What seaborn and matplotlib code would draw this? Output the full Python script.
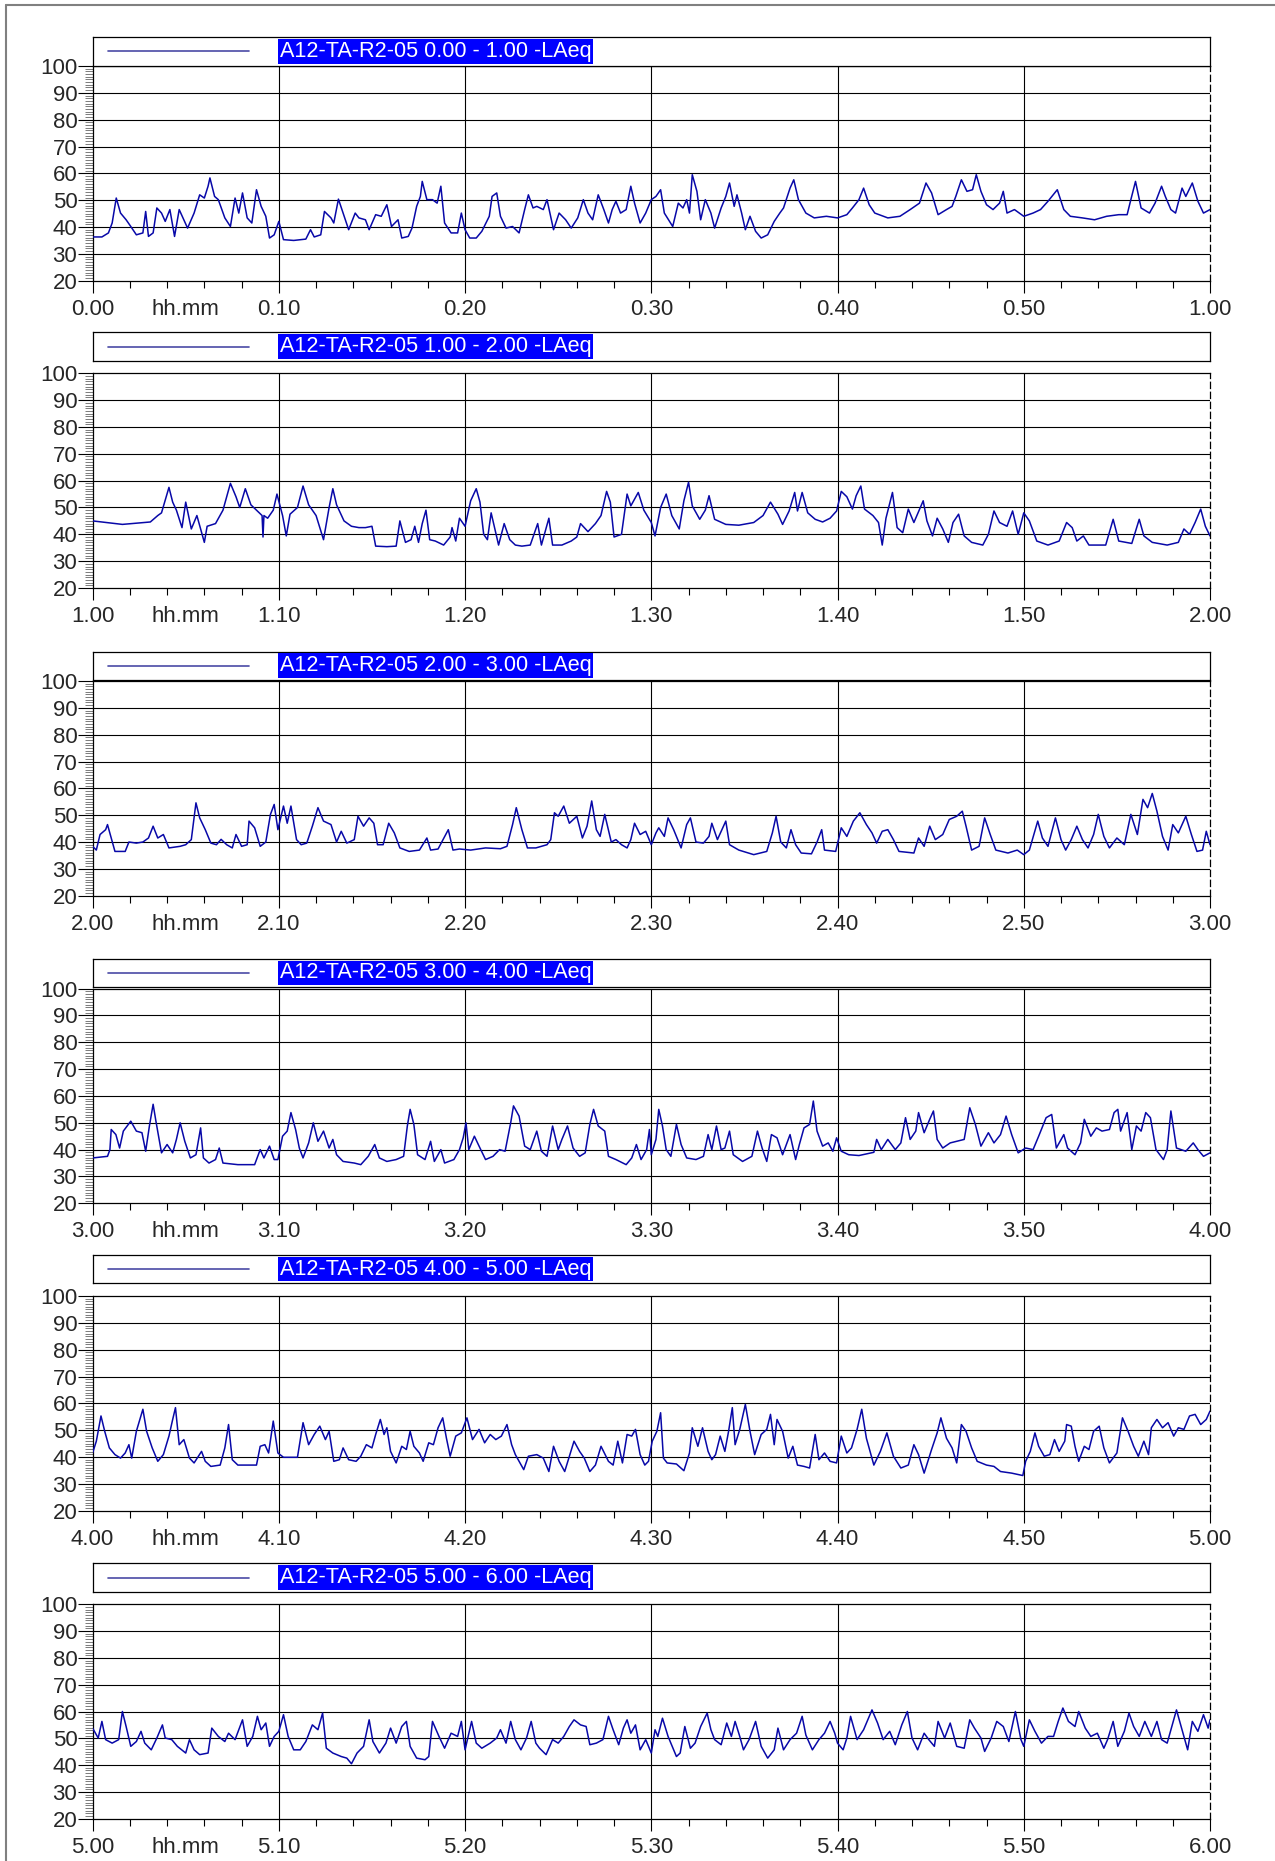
import numpy as np
import pandas as pd
import matplotlib
matplotlib.use("Agg")
import matplotlib.pyplot as plt
from matplotlib.lines import Line2D
import seaborn as sns

# Dados: (minuto dentro da hora, nível dB)
station = "A12-TA-R2-05"
metric = "LAeq"
hours = [0, 1, 2, 3, 4, 5]
y_ticks = [20, 30, 40, 50, 60, 70, 80, 90, 100]
x_ticks = [0, 10, 20, 30, 40, 50, 60]

trace_0 = [
    (0, 36.3), (0.5, 36.3), (0.85, 37.8), (1.05, 41.5), (1.27, 50.8), (1.5, 45.2), (1.8, 42.7), (2.05, 40.2),
    (2.35, 37.1), (2.7, 37.8), (2.85, 45.8), (3.0, 36.5), (3.25, 37.8), (3.45, 47.1), (3.7, 45.2), (3.9, 42.1),
    (4.15, 46.5), (4.4, 36.5), (4.65, 46.5), (4.9, 42.7), (5.1, 39.6), (5.45, 45.2), (5.75, 52.0), (6.0, 50.8),
    (6.2, 55.2), (6.3, 58.3), (6.55, 51.4), (6.75, 50.2), (7.1, 43.4), (7.4, 40.2), (7.65, 50.8), (7.85, 45.2),
    (8.05, 52.7), (8.3, 43.4), (8.55, 41.5), (8.8, 53.9), (9.05, 47.7), (9.3, 44.0), (9.5, 35.9), (9.75, 37.1),
    (10.0, 42.1), (10.25, 35.3), (10.8, 35.0), (11.45, 35.5), (11.7, 39.0), (11.9, 36.3), (12.25, 37.1),
    (12.45, 45.8), (12.8, 43.4), (12.95, 41.5), (13.2, 50.4), (13.45, 45.2), (13.75, 39.0), (14.1, 45.2),
    (14.3, 43.4), (14.65, 42.7), (14.85, 39.0), (15.2, 44.6), (15.5, 44.0), (15.8, 48.3), (16.05, 40.2),
    (16.4, 42.7), (16.6, 35.9), (16.95, 36.5), (17.15, 39.6), (17.4, 47.7), (17.6, 51.4), (17.7, 57.0),
    (17.95, 50.2), (18.25, 50.2), (18.5, 48.9), (18.7, 55.2), (18.9, 41.5), (19.25, 37.8), (19.6, 37.8),
    (19.8, 45.2), (20.0, 39.0), (20.25, 35.9), (20.6, 35.9), (20.9, 38.4), (21.3, 44.0), (21.45, 51.4),
    (21.7, 52.7), (21.9, 44.0), (22.2, 39.6), (22.55, 40.2), (22.9, 37.8), (23.2, 46.5), (23.4, 52.0),
    (23.65, 47.1), (23.85, 47.7), (24.2, 46.5), (24.4, 50.2), (24.75, 39.0), (25.05, 45.2), (25.4, 42.7),
    (25.7, 39.6), (26.05, 43.4), (26.35, 50.2), (26.6, 45.2), (26.85, 42.7), (27.15, 52.0), (27.45, 46.5),
    (27.7, 41.5), (27.9, 46.5), (28.1, 49.6), (28.35, 45.2), (28.65, 46.5), (28.9, 55.2), (29.1, 48.9),
    (29.4, 41.5), (29.7, 45.2), (30.0, 50.2), (30.25, 51.4), (30.5, 53.9), (30.7, 45.2), (31.15, 40.2),
    (31.45, 48.9), (31.7, 47.1), (31.9, 50.2), (32.05, 45.2), (32.2, 59.5), (32.45, 53.3), (32.65, 42.7),
    (32.9, 50.2), (33.2, 45.2), (33.4, 39.6), (33.75, 47.1), (34.0, 51.4), (34.2, 56.4), (34.45, 47.7),
    (34.6, 52.0), (34.85, 45.2), (35.05, 39.0), (35.3, 44.0), (35.6, 38.4), (35.9, 35.9), (36.25, 37.1),
    (36.6, 42.1), (36.9, 45.2), (37.1, 47.1), (37.45, 54.5), (37.65, 57.6), (37.9, 50.2), (38.3, 45.2),
    (38.75, 43.4), (39.4, 44.0), (40.0, 43.4), (40.5, 44.6), (40.8, 47.1), (41.15, 50.2), (41.4, 54.5),
    (41.7, 48.3), (42.0, 45.2), (42.7, 43.4), (43.35, 44.0), (43.9, 46.5), (44.4, 48.9), (44.75, 56.4),
    (45.05, 52.7), (45.4, 44.6), (45.85, 46.5), (46.15, 47.7), (46.35, 51.4), (46.65, 57.6), (46.95, 53.3),
    (47.25, 53.9), (47.45, 59.5), (47.7, 53.3), (48.0, 48.3), (48.35, 46.5), (48.7, 48.9), (48.9, 53.3),
    (49.1, 45.2), (49.5, 46.5), (50.0, 44.0), (50.5, 45.2), (50.9, 46.5), (51.3, 49.6), (51.8, 53.9),
    (52.15, 46.5), (52.5, 44.0), (53.15, 43.4), (53.8, 42.7), (54.45, 44.0), (55.1, 44.6), (55.55, 44.6),
    (55.75, 50.2), (56.0, 57.0), (56.3, 47.1), (56.75, 45.2), (57.05, 48.9), (57.4, 55.2), (57.6, 51.4),
    (57.9, 46.5), (58.15, 45.2), (58.5, 54.5), (58.7, 51.4), (59.05, 56.4), (59.35, 49.6), (59.65, 45.2),
    (60.0, 46.5),
]

trace_1 = [
    (0, 45.0), (1.6, 43.7), (3.1, 44.6), (3.5, 47.0), (3.7, 48.0), (4.1, 57.5), (4.3, 52.0), (4.5, 49.0),
    (4.8, 42.5), (5.0, 52.0), (5.3, 42.0), (5.6, 47.0), (5.8, 42.0), (6.0, 37.0), (6.15, 43.0), (6.6, 44.0),
    (7.0, 49.0), (7.4, 59.0), (7.7, 54.0), (7.9, 50.0), (8.2, 57.0), (8.5, 51.0), (8.8, 49.0), (9.1, 47.0),
    (9.15, 39.0), (9.2, 47.0), (9.4, 46.0), (9.7, 49.0), (9.9, 55.0), (10.2, 47.0), (10.4, 39.4), (10.6, 47.5),
    (11.0, 50.0), (11.3, 58.0), (11.6, 51.0), (12.0, 47.0), (12.4, 38.0), (12.7, 50.0), (12.9, 57.0),
    (13.1, 51.0), (13.5, 45.0), (13.9, 43.0), (14.3, 42.5), (14.65, 42.5), (15.0, 43.0), (15.2, 35.6),
    (15.8, 35.4), (16.3, 35.6), (16.5, 45.0), (16.8, 37.0), (17.1, 38.0), (17.3, 43.0), (17.5, 37.0),
    (17.7, 44.0), (17.9, 49.0), (18.1, 38.0), (18.4, 37.5), (18.85, 36.0), (19.2, 39.0), (19.3, 42.5),
    (19.5, 37.5), (19.7, 46.0), (20.0, 43.0), (20.3, 52.5), (20.6, 57.0), (20.8, 52.0), (21.0, 40.0),
    (21.2, 38.0), (21.4, 48.0), (21.6, 42.0), (21.8, 36.0), (22.1, 44.0), (22.4, 38.0), (22.7, 36.0),
    (23.05, 35.6), (23.5, 36.0), (23.9, 44.0), (24.1, 36.0), (24.5, 46.0), (24.7, 36.0), (25.2, 36.0),
    (25.7, 37.5), (26.0, 39.0), (26.2, 44.0), (26.6, 41.0), (27.0, 44.0), (27.3, 47.0), (27.6, 56.0),
    (27.8, 52.0), (28.0, 39.0), (28.4, 40.0), (28.7, 55.0), (28.9, 50.6), (29.3, 55.6), (29.6, 49.0),
    (30.0, 44.4), (30.2, 39.4), (30.5, 50.0), (30.8, 55.0), (31.1, 47.0), (31.5, 42.0), (31.75, 52.5),
    (32.0, 59.4), (32.2, 50.6), (32.6, 45.6), (32.9, 49.0), (33.1, 54.4), (33.4, 45.6), (34.0, 43.7),
    (34.7, 43.4), (35.5, 44.4), (36.0, 47.0), (36.4, 52.0), (36.8, 47.5), (37.05, 43.7), (37.4, 48.7),
    (37.7, 55.6), (37.85, 48.7), (38.1, 55.6), (38.4, 48.0), (38.8, 45.6), (39.2, 44.6), (39.6, 46.0),
    (39.95, 48.7), (40.2, 56.0), (40.5, 54.0), (40.8, 49.4), (41.0, 54.4), (41.25, 58.0), (41.45, 49.4),
    (41.9, 47.0), (42.2, 44.4), (42.4, 36.0), (42.6, 46.0), (42.95, 55.6), (43.2, 42.5), (43.5, 40.6),
    (43.8, 49.4), (44.1, 44.4), (44.6, 52.5), (44.8, 45.0), (45.1, 39.4), (45.35, 46.0), (45.65, 42.0),
    (45.95, 37.0), (46.2, 44.4), (46.5, 47.5), (46.8, 39.4), (47.2, 37.0), (47.8, 36.0), (48.1, 40.0),
    (48.4, 48.7), (48.7, 44.4), (49.1, 43.0), (49.4, 48.7), (49.7, 40.0), (50.0, 48.0), (50.3, 45.0),
    (50.7, 37.5), (51.3, 36.0), (51.9, 37.5), (52.3, 44.4), (52.6, 42.5), (52.85, 37.5), (53.2, 39.4),
    (53.5, 36.0), (54.4, 36.0), (54.8, 45.6), (55.1, 37.5), (55.8, 36.6), (56.2, 45.6), (56.45, 39.4),
    (56.9, 37.0), (57.7, 36.0), (58.3, 37.0), (58.6, 42.0), (58.9, 40.0), (59.2, 44.4), (59.5, 49.4),
    (59.75, 43.0), (60.0, 39.4),
]

trace_2 = [
    (0, 38.4), (0.2, 37.0), (0.4, 42.8), (0.7, 44.6), (0.8, 46.5), (1.0, 41.5), (1.2, 36.5), (1.75, 36.5),
    (1.95, 40.0), (2.35, 39.6), (2.7, 40.0), (3.0, 41.5), (3.25, 45.9), (3.5, 41.5), (3.8, 42.8), (4.1, 37.8),
    (4.7, 38.4), (5.0, 39.0), (5.3, 40.9), (5.55, 54.6), (5.75, 49.0), (6.05, 44.6), (6.35, 39.6), (6.65, 39.0),
    (6.9, 41.0), (7.2, 39.0), (7.5, 37.8), (7.7, 42.8), (8.0, 38.4), (8.3, 39.0), (8.4, 47.8), (8.7, 45.3),
    (9.0, 38.4), (9.3, 40.0), (9.55, 50.3), (9.75, 54.0), (9.95, 44.6), (10.25, 53.4), (10.45, 47.0),
    (10.65, 53.4), (10.95, 40.9), (11.2, 39.0), (11.5, 39.6), (11.8, 45.9), (12.1, 52.8), (12.4, 47.8),
    (12.8, 46.5), (13.1, 40.0), (13.35, 44.0), (13.65, 39.6), (14.05, 40.9), (14.25, 49.6), (14.55, 45.9),
    (14.85, 49.0), (15.1, 47.0), (15.3, 39.0), (15.6, 39.0), (15.9, 47.0), (16.2, 43.4), (16.5, 37.8),
    (17.0, 36.5), (17.55, 37.0), (17.95, 41.5), (18.15, 37.0), (18.55, 37.4), (19.1, 44.6), (19.35, 37.0),
    (19.7, 37.4), (20.3, 37.0), (21.1, 37.8), (21.9, 37.5), (22.25, 38.4), (22.55, 46.5), (22.75, 52.8),
    (23.05, 44.6), (23.35, 37.8), (23.8, 37.8), (24.4, 39.0), (24.6, 40.9), (24.8, 50.9), (25.0, 49.6),
    (25.3, 53.4), (25.6, 47.0), (26.0, 49.6), (26.3, 41.5), (26.55, 45.9), (26.8, 55.3), (27.05, 44.6),
    (27.25, 42.1), (27.5, 50.3), (27.85, 40.0), (28.1, 40.9), (28.4, 39.0), (28.7, 37.8), (28.9, 40.9),
    (29.1, 47.0), (29.4, 42.8), (29.7, 44.0), (30.0, 39.0), (30.25, 43.4), (30.4, 45.3), (30.7, 42.1),
    (30.9, 49.0), (31.2, 44.6), (31.6, 37.8), (31.9, 46.5), (32.1, 49.0), (32.4, 40.0), (32.8, 39.6),
    (33.1, 42.1), (33.25, 47.0), (33.55, 40.9), (34.0, 47.8), (34.2, 39.0), (34.7, 37.0), (35.5, 35.3),
    (36.2, 36.5), (36.5, 43.4), (36.7, 49.6), (36.95, 40.0), (37.25, 37.8), (37.5, 44.6), (37.75, 39.0),
    (38.05, 35.9), (38.6, 35.6), (38.9, 40.0), (39.15, 44.6), (39.3, 37.0), (39.9, 36.5), (40.2, 45.3),
    (40.5, 42.1), (40.85, 47.8), (41.2, 50.9), (41.55, 46.5), (41.85, 43.4), (42.1, 39.6), (42.4, 44.0),
    (42.7, 44.6), (43.0, 40.9), (43.3, 36.5), (44.1, 35.9), (44.35, 41.5), (44.65, 38.4), (44.95, 45.9),
    (45.25, 40.9), (45.65, 42.8), (46.0, 48.4), (46.4, 49.6), (46.7, 51.5), (46.9, 45.9), (47.2, 37.0),
    (47.6, 38.4), (47.9, 49.0), (48.2, 42.8), (48.5, 37.0), (49.15, 35.9), (49.65, 37.0), (50.0, 35.3),
    (50.3, 37.0), (50.75, 47.8), (51.0, 41.5), (51.3, 38.4), (51.7, 49.0), (52.0, 40.9), (52.25, 37.0),
    (52.55, 40.9), (52.85, 45.9), (53.15, 40.9), (53.45, 37.8), (53.75, 42.8), (54.0, 50.3), (54.3, 42.1),
    (54.6, 37.8), (55.0, 41.5), (55.4, 39.0), (55.75, 50.3), (56.1, 42.8), (56.4, 55.9), (56.65, 52.8),
    (56.9, 58.1), (57.15, 51.5), (57.45, 42.1), (57.75, 37.0), (58.0, 46.5), (58.3, 43.4), (58.7, 49.6),
    (59.0, 42.8), (59.3, 36.5), (59.6, 37.0), (59.8, 44.0), (60.0, 39.0),
]

trace_3 = [
    (0, 36.9), (0.8, 37.5), (0.93, 40.0), (1.0, 47.5), (1.25, 45.6), (1.45, 40.6), (1.65, 46.9), (2.05, 50.6),
    (2.35, 46.9), (2.65, 46.3), (2.85, 39.4), (3.05, 48.8), (3.25, 56.9), (3.4, 50.6), (3.7, 38.8), (4.0, 41.9),
    (4.3, 38.8), (4.5, 43.8), (4.7, 50.0), (4.95, 43.1), (5.25, 36.9), (5.55, 38.1), (5.8, 48.1), (5.95, 36.9),
    (6.25, 35.0), (6.6, 36.3), (6.8, 40.6), (7.0, 35.0), (7.8, 34.4), (8.7, 34.4), (9.0, 40.0), (9.2, 36.9),
    (9.5, 41.3), (9.75, 36.3), (9.95, 36.3), (10.2, 45.0), (10.45, 46.9), (10.65, 53.8), (10.9, 47.5),
    (11.1, 40.6), (11.3, 36.9), (11.6, 42.5), (11.85, 50.0), (12.1, 43.1), (12.4, 46.9), (12.7, 40.6),
    (12.9, 43.8), (13.1, 38.1), (13.45, 35.6), (14.05, 35.0), (14.4, 34.4), (14.8, 37.5), (15.15, 41.9),
    (15.4, 36.9), (15.8, 35.6), (16.3, 36.3), (16.7, 37.5), (16.9, 48.8), (17.05, 55.0), (17.25, 49.4),
    (17.45, 38.1), (17.85, 36.3), (18.15, 43.1), (18.35, 35.6), (18.7, 40.0), (18.9, 35.0), (19.4, 36.3),
    (19.7, 40.0), (19.9, 44.4), (20.05, 50.0), (20.2, 40.0), (20.5, 45.0), (20.8, 40.6), (21.1, 36.3),
    (21.5, 37.5), (21.85, 40.0), (22.15, 39.4), (22.45, 50.0), (22.6, 56.3), (22.9, 52.5), (23.2, 41.3),
    (23.5, 40.0), (23.85, 46.9), (24.1, 39.4), (24.4, 37.5), (24.7, 48.8), (25.0, 40.0), (25.2, 43.8),
    (25.5, 48.8), (25.8, 40.6), (26.15, 37.5), (26.45, 38.8), (26.7, 49.4), (26.9, 55.0), (27.15, 48.8),
    (27.5, 46.9), (27.7, 37.5), (28.1, 36.3), (28.65, 34.4), (28.95, 36.9), (29.2, 41.9), (29.45, 36.3),
    (29.75, 40.0), (29.9, 47.5), (30.0, 38.1), (30.25, 43.8), (30.4, 55.0), (30.6, 48.8), (30.8, 40.0),
    (31.05, 37.5), (31.35, 49.4), (31.6, 41.9), (31.9, 36.9), (32.4, 36.3), (32.8, 37.5), (33.05, 45.6),
    (33.25, 40.0), (33.5, 48.8), (33.75, 40.0), (33.95, 40.6), (34.2, 46.9), (34.4, 38.1), (34.9, 35.6),
    (35.4, 37.5), (35.7, 46.9), (35.95, 40.6), (36.2, 35.6), (36.45, 45.6), (36.75, 44.4), (37.05, 38.1),
    (37.45, 45.6), (37.75, 36.3), (37.95, 41.9), (38.2, 48.1), (38.5, 49.4), (38.7, 58.1), (38.9, 46.9),
    (39.2, 41.3), (39.5, 42.5), (39.75, 39.4), (39.95, 44.4), (40.2, 39.4), (40.6, 38.1), (41.15, 37.8),
    (41.95, 39.0), (42.1, 43.8), (42.35, 40.0), (42.7, 43.8), (43.1, 40.0), (43.4, 42.5), (43.65, 51.9),
    (43.9, 43.8), (44.2, 46.9), (44.35, 53.8), (44.65, 46.3), (44.95, 51.3), (45.15, 54.4), (45.35, 43.8),
    (45.65, 40.6), (46.05, 42.5), (46.4, 43.1), (46.8, 43.8), (47.1, 55.6), (47.4, 49.4), (47.7, 41.3),
    (48.1, 46.3), (48.4, 42.5), (48.75, 45.6), (49.05, 52.5), (49.35, 45.6), (49.7, 38.8), (50.1, 40.6),
    (50.5, 40.0), (50.8, 45.0), (51.2, 51.9), (51.5, 53.1), (51.75, 40.6), (52.15, 45.6), (52.35, 40.6),
    (52.75, 38.1), (53.05, 42.5), (53.25, 51.3), (53.6, 45.0), (53.9, 48.1), (54.2, 46.9), (54.6, 47.5),
    (54.85, 53.8), (55.05, 55.0), (55.2, 46.9), (55.55, 53.8), (55.8, 40.0), (56.05, 48.8), (56.3, 46.9),
    (56.55, 53.8), (56.8, 51.9), (57.1, 40.0), (57.5, 36.3), (57.7, 40.0), (57.9, 54.4), (58.2, 40.6),
    (58.7, 39.4), (59.1, 42.5), (59.35, 40.0), (59.65, 37.5), (60.0, 38.8),
]

trace_4 = [
    (0, 41.5), (0.2, 45.9), (0.45, 55.3), (0.65, 49.6), (0.9, 43.4), (1.2, 40.9), (1.5, 39.6), (1.75, 41.5),
    (1.95, 44.6), (2.1, 39.6), (2.35, 49.6), (2.7, 57.8), (2.9, 49.6), (3.2, 43.4), (3.5, 38.4), (3.8, 40.9),
    (4.1, 47.8), (4.3, 54.0), (4.45, 58.4), (4.65, 44.6), (4.9, 46.5), (5.2, 39.6), (5.45, 37.8), (5.85, 42.1),
    (6.05, 38.4), (6.35, 36.5), (6.85, 37.0), (7.1, 43.4), (7.3, 52.1), (7.5, 39.0), (7.8, 37.0), (8.4, 37.0),
    (8.8, 37.0), (9.0, 44.0), (9.25, 44.6), (9.45, 41.5), (9.7, 53.4), (9.95, 41.5), (10.25, 39.9),
    (11.0, 39.9), (11.3, 52.8), (11.6, 44.6), (11.9, 48.4), (12.2, 51.5), (12.5, 46.5), (12.7, 49.6),
    (12.95, 38.4), (13.25, 39.0), (13.45, 43.4), (13.75, 39.0), (14.15, 38.4), (14.4, 40.3), (14.7, 44.6),
    (15.0, 43.4), (15.2, 48.4), (15.45, 54.0), (15.65, 48.4), (15.8, 50.9), (16.0, 42.1), (16.3, 37.8),
    (16.6, 44.0), (16.85, 42.8), (17.05, 49.6), (17.25, 44.0), (17.55, 41.5), (17.75, 38.4), (18.05, 45.3),
    (18.3, 44.6), (18.55, 50.9), (18.8, 54.6), (19.0, 47.0), (19.2, 40.3), (19.5, 47.8), (19.8, 49.0),
    (20.1, 54.6), (20.4, 46.5), (20.75, 50.3), (21.05, 45.3), (21.35, 48.4), (21.65, 46.5), (21.95, 47.8),
    (22.25, 52.1), (22.5, 44.6), (22.7, 40.9), (22.9, 38.4), (23.15, 35.3), (23.4, 40.3), (23.85, 40.9),
    (24.2, 39.6), (24.5, 34.6), (24.75, 44.0), (25.05, 38.4), (25.35, 34.6), (25.6, 40.3), (25.85, 45.9),
    (26.15, 42.1), (26.4, 39.6), (26.7, 34.6), (27.0, 37.0), (27.3, 44.0), (27.7, 38.4), (27.95, 37.0),
    (28.2, 45.9), (28.45, 37.8), (28.7, 48.4), (28.95, 47.8), (29.15, 50.3), (29.4, 40.9), (29.65, 37.0),
    (29.85, 38.4), (30.05, 45.9), (30.3, 49.6), (30.5, 56.5), (30.65, 39.6), (30.85, 37.8), (31.35, 37.4),
    (31.75, 34.9), (32.05, 41.5), (32.2, 50.9), (32.5, 44.0), (32.75, 50.9), (33.05, 42.1), (33.25, 39.0),
    (33.45, 40.9), (33.7, 47.8), (33.95, 42.1), (34.15, 49.6), (34.35, 58.4), (34.5, 44.6), (34.75, 50.3),
    (35.05, 59.6), (35.3, 49.6), (35.55, 40.9), (35.9, 48.4), (36.2, 50.3), (36.4, 55.9), (36.6, 44.6),
    (36.75, 54.0), (37.05, 49.6), (37.35, 39.6), (37.6, 44.0), (37.85, 37.0), (38.2, 36.5), (38.5, 35.9),
    (38.8, 48.4), (39.0, 39.0), (39.3, 41.5), (39.6, 38.4), (39.95, 37.8), (40.2, 47.8), (40.5, 41.5),
    (40.75, 43.4), (41.05, 50.3), (41.3, 57.8), (41.55, 47.0), (41.95, 37.0), (42.3, 42.1), (42.65, 49.0),
    (43.0, 40.3), (43.4, 35.9), (43.8, 37.0), (44.1, 44.6), (44.35, 40.9), (44.65, 34.0), (45.05, 42.8),
    (45.35, 49.0), (45.55, 54.6), (45.85, 47.0), (46.15, 43.4), (46.4, 37.8), (46.65, 52.1), (46.9, 49.6),
    (47.2, 43.4), (47.5, 38.4), (48.0, 37.0), (48.4, 36.5), (48.75, 34.6), (49.35, 34.0), (49.95, 33.1),
    (50.1, 38.4), (50.35, 42.1), (50.6, 49.0), (50.8, 44.0), (51.1, 40.3), (51.4, 40.9), (51.65, 46.5),
    (51.9, 42.1), (52.2, 45.9), (52.3, 52.1), (52.55, 51.5), (52.75, 44.0), (52.95, 38.4), (53.25, 44.0),
    (53.5, 42.8), (53.75, 49.6), (54.05, 51.5), (54.3, 43.4), (54.6, 37.8), (55.0, 41.5), (55.3, 54.6),
    (55.6, 49.6), (55.9, 44.0), (56.15, 40.3), (56.45, 45.9), (56.7, 40.9), (56.85, 50.9), (57.15, 54.0),
    (57.45, 50.9), (57.75, 52.8), (58.05, 47.8), (58.3, 50.9), (58.6, 50.3), (58.9, 55.3), (59.2, 55.9),
    (59.5, 52.1), (59.8, 54.0), (60.0, 57.1),
]

trace_5 = [
    (0, 53.8), (0.3, 50.1), (0.5, 56.3), (0.7, 49.5), (1.05, 48.2), (1.4, 49.5), (1.6, 60.0), (1.8, 54.4),
    (2.05, 47.0), (2.35, 48.8), (2.6, 52.6), (2.8, 48.2), (3.15, 45.7), (3.45, 50.1), (3.75, 55.0), (3.9, 50.1),
    (4.25, 49.5), (4.55, 47.0), (5.0, 44.5), (5.2, 49.5), (5.45, 45.7), (5.75, 43.9), (6.2, 44.5), (6.4, 53.8),
    (6.75, 50.7), (7.1, 48.8), (7.3, 51.9), (7.65, 49.5), (7.85, 53.2), (8.05, 56.9), (8.3, 47.0), (8.6, 50.7),
    (8.85, 58.2), (9.05, 53.2), (9.3, 55.7), (9.5, 47.0), (9.75, 50.7), (10.0, 52.6), (10.25, 58.8),
    (10.5, 50.7), (10.8, 45.7), (11.15, 45.7), (11.45, 48.8), (11.8, 55.0), (12.1, 53.2), (12.35, 59.4),
    (12.55, 46.3), (12.9, 44.5), (13.35, 43.2), (13.65, 42.6), (13.9, 40.5), (14.2, 44.5), (14.55, 47.0),
    (14.85, 56.9), (15.05, 48.8), (15.4, 44.5), (15.75, 48.2), (16.0, 53.8), (16.3, 48.2), (16.6, 54.4),
    (16.85, 56.3), (17.05, 47.0), (17.4, 42.6), (17.85, 42.0), (18.05, 43.2), (18.25, 56.3), (18.6, 50.7),
    (18.9, 46.3), (19.25, 51.9), (19.6, 50.7), (19.8, 56.3), (20.0, 45.7), (20.35, 56.3), (20.6, 48.2),
    (20.9, 46.3), (21.35, 48.2), (21.7, 50.1), (21.9, 53.2), (22.2, 48.2), (22.45, 56.3), (22.7, 49.5),
    (23.0, 45.7), (23.3, 50.1), (23.55, 56.3), (23.8, 48.2), (24.0, 46.3), (24.35, 43.9), (24.7, 49.5),
    (25.0, 48.2), (25.3, 50.7), (25.6, 54.4), (25.85, 56.9), (26.2, 55.0), (26.5, 54.4), (26.7, 47.6),
    (27.05, 48.2), (27.4, 49.5), (27.7, 58.2), (27.95, 53.2), (28.25, 47.6), (28.5, 53.8), (28.7, 56.9),
    (28.9, 51.9), (29.15, 55.0), (29.4, 45.7), (29.7, 49.5), (30.0, 44.5), (30.2, 53.2), (30.35, 50.7),
    (30.6, 57.5), (30.9, 50.7), (31.35, 43.2), (31.55, 44.5), (31.8, 54.4), (32.1, 46.3), (32.35, 48.2),
    (32.65, 54.4), (33.0, 59.4), (33.2, 53.2), (33.4, 49.5), (33.75, 47.6), (34.05, 55.7), (34.3, 50.7),
    (34.5, 56.3), (34.75, 50.7), (34.95, 45.7), (35.25, 49.5), (35.6, 56.3), (35.9, 47.0), (36.25, 42.6),
    (36.6, 45.7), (36.8, 53.8), (37.1, 45.7), (37.45, 49.5), (37.8, 51.9), (38.1, 58.2), (38.3, 51.2),
    (38.65, 45.7), (39.0, 49.5), (39.3, 51.9), (39.6, 56.3), (39.85, 51.9), (40.0, 48.2), (40.3, 45.7),
    (40.5, 50.1), (40.7, 58.2), (41.05, 49.5), (41.4, 53.2), (41.7, 58.2), (41.85, 60.6), (42.15, 55.7),
    (42.45, 49.5), (42.8, 52.6), (43.1, 47.6), (43.45, 55.0), (43.75, 60.0), (44.0, 50.1), (44.3, 45.7),
    (44.65, 51.9), (44.9, 49.5), (45.2, 47.0), (45.4, 56.3), (45.75, 50.1), (46.05, 55.7), (46.4, 47.0),
    (46.8, 46.3), (47.1, 56.9), (47.35, 53.8), (47.7, 50.1), (47.9, 45.1), (48.25, 50.1), (48.55, 56.3),
    (48.9, 54.4), (49.2, 48.8), (49.55, 60.0), (49.85, 49.5), (50.0, 47.0), (50.3, 56.9), (50.6, 52.6),
    (50.95, 48.2), (51.3, 50.7), (51.6, 50.7), (51.85, 56.3), (52.1, 61.3), (52.4, 56.3), (52.75, 54.4),
    (52.95, 60.0), (53.3, 53.8), (53.6, 50.7), (53.95, 51.9), (54.3, 46.3), (54.5, 49.5), (54.8, 56.3),
    (55.05, 47.0), (55.4, 52.6), (55.65, 59.4), (55.9, 54.4), (56.2, 50.7), (56.5, 56.3), (56.85, 50.7),
    (57.15, 56.3), (57.4, 49.5), (57.7, 48.2), (57.95, 54.4), (58.2, 60.6), (58.5, 53.2), (58.8, 45.7),
    (59.05, 56.3), (59.35, 52.6), (59.65, 58.8), (59.9, 53.8), (60.0, 56.9),
]

traces = [trace_0, trace_1, trace_2, trace_3, trace_4, trace_5]

sns.set_style("ticks")
plt.rcParams["font.family"] = ["Liberation Sans", "DejaVu Sans"]
plt.rcParams["font.size"] = 16

W, H = 1275, 1861
fig = plt.figure(figsize=(W / 100, H / 100), dpi=100)
fig.patch.set_facecolor("white")


def box(left, top, right, bottom):
    # posição em pixels (a partir do topo) -> fração da figura
    return [left / W, 1 - bottom / H, (right - left) / W, (bottom - top) / H]


x_left, x_right = 92.6, 1210
plot_rows = [(66, 280.7), (373.3, 588), (681, 895.7), (988.6, 1203.3), (1296, 1510.7), (1604.3, 1818.7)]
legend_rows = [(36.7, 66), (332.4, 361), (651.8, 679.5), (959.3, 986.6), (1254.9, 1283.4), (1563.3, 1591.7)]

for h, trace, (pt, pb), (lt, lb) in zip(hours, traces, plot_rows, legend_rows):
    df = pd.DataFrame(trace, columns=["minuto", "nivel"])

    ax = fig.add_axes(box(x_left, pt, x_right, pb))
    sns.lineplot(data=df, x="minuto", y="nivel", ax=ax, color="#0808a8", linewidth=1.1,
                 estimator=None, errorbar=None, zorder=3)
    ax.set_xlim(0, 60)
    ax.set_ylim(20, 100)
    ax.set_xlabel("")
    ax.set_ylabel("")

    # grade manual (a borda direita fica tracejada)
    for v in range(30, 100, 10):
        ax.axhline(v, color="black", lw=0.8, zorder=1)
    for v in range(10, 60, 10):
        ax.axvline(v, color="black", lw=0.8, zorder=1)

    ax.set_xticks(x_ticks)
    ax.set_xticklabels([f"{h + m // 60}.{m % 60:02d}" for m in x_ticks])
    ax.set_xticks(np.arange(0, 61, 2), minor=True)
    ax.set_yticks(y_ticks)
    ax.set_yticklabels([str(v) for v in y_ticks])
    ax.set_yticks(np.arange(20, 101, 1), minor=True)

    ax.tick_params(axis="x", which="major", length=8.5, width=0.8, pad=4.5, labelsize=16, color="black")
    ax.tick_params(axis="x", which="minor", length=5, width=0.8, color="black")
    ax.tick_params(axis="y", which="major", length=10.5, width=0.8, pad=0.5, labelsize=16, color="black")
    ax.tick_params(axis="y", which="minor", length=5.5, width=0.45, color="#333333")

    for side in ["left", "top", "bottom", "right"]:
        ax.spines[side].set_color("black")
        ax.spines[side].set_linewidth(0.9)
    ax.spines["right"].set_linestyle((0, (5, 3)))

    ax.annotate("hh.mm", xy=(5, 0), xycoords=("data", "axes fraction"), xytext=(0, -13),
                textcoords="offset points", ha="center", va="top", fontsize=16)

    # caixa da legenda acima de cada painel
    lax = fig.add_axes(box(x_left, lt, x_right, lb))
    lax.set_xticks([])
    lax.set_yticks([])
    lax.set_xlim(0, 1)
    lax.set_ylim(0, 1)
    for side in ["left", "top", "bottom", "right"]:
        lax.spines[side].set_color("black")
        lax.spines[side].set_linewidth(0.9)
    lax.plot([0.0136, 0.14], [0.5, 0.5], color="#4a4aa6", lw=1.2)
    lax.text(0.1674, 0.5, f"{station} {h}.00 - {h + 1}.00 -{metric}", color="white", fontsize=15.6,
             ha="left", va="center",
             bbox=dict(boxstyle="square,pad=0.08", fc="#0000ff", ec="none"))

# moldura externa cinza (esquerda e topo)
fig.add_artist(Line2D([6 / W, 6 / W], [0, 1 - 5 / H], color="#808080", lw=1.5))
fig.add_artist(Line2D([6 / W, 1], [1 - 5 / H, 1 - 5 / H], color="#808080", lw=1.5))

fig.savefig("out.png", dpi=100, facecolor="white")
